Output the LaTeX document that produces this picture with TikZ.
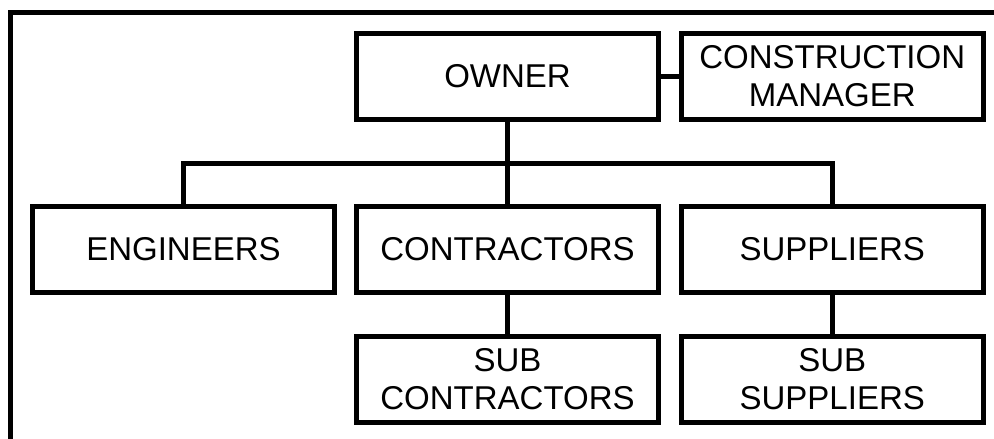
\documentclass[tikz,border=0pt]{standalone}
\usepackage{fontspec}
\setmainfont{Liberation Sans}
\begin{document}
\begin{tikzpicture}[x=1pt,y=-1pt,
  orgbox/.style={draw, line width=5pt, rectangle, minimum width=302pt, align=center,
    font=\fontsize{33}{38}\selectfont, inner sep=0pt},
  link/.style={line width=5pt}]
\useasboundingbox (0,0) rectangle (994,439);
\clip (0,0) rectangle (994,439);
\draw[link] (10,460) -- (10,12) -- (1010,12);
\node[orgbox, minimum height=86.5pt] (owner) at (507.5,76.25) {OWNER};
\node[orgbox, minimum height=86.5pt, minimum width=302.5pt] (cm) at (832.25,76.25) {CONSTRUCTION\\MANAGER};
\node[orgbox, minimum height=85.5pt] (eng) at (183.5,249.25) {ENGINEERS};
\node[orgbox, minimum height=85.5pt] (con) at (507.5,249.25) {CONTRACTORS};
\node[orgbox, minimum height=85.5pt, minimum width=302.5pt] (sup) at (832.25,249.25) {SUPPLIERS};
\node[orgbox, minimum height=85.5pt] (subcon) at (507.5,379.25) {SUB\\CONTRACTORS};
\node[orgbox, minimum height=85.5pt, minimum width=302.5pt] (subsup) at (832.25,379.25) {SUB\\SUPPLIERS};
\coordinate (bus) at (0,163);
\draw[link] (owner.east) -- (cm.west);
\draw[link] (owner.south) -- (con.north);
\draw[link] (eng.north) -- (eng.north |- bus) -- (sup.north |- bus) -- (sup.north);
\draw[link] (con.south) -- (subcon.north);
\draw[link] (sup.south) -- (subsup.north);
\end{tikzpicture}
\end{document}
